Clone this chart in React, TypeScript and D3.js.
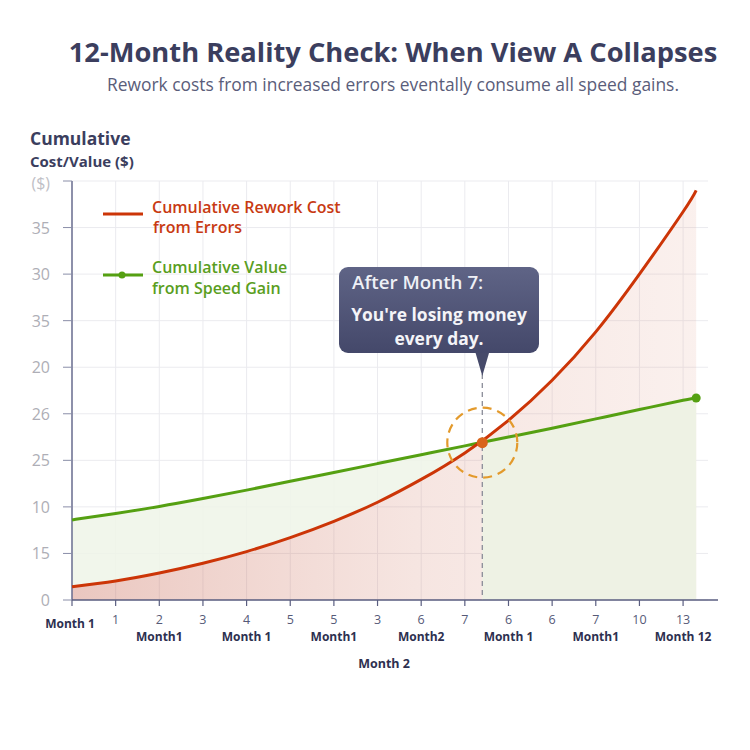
import React from 'react';
import * as d3 from 'd3';

const months = [0, 1, 2, 3, 4, 5, 6, 7, 8, 9, 10, 11, 12, 13, 14, 14.3];
const reworkCost = [1.43, 2.05, 2.9, 3.95, 5.2, 6.7, 8.45, 10.5, 12.95, 15.8, 19.3, 23.6, 28.8, 35.0, 41.7, 44.0];
const speedValue = [8.6, 9.3, 10.05, 10.9, 11.8, 12.75, 13.7, 14.65, 15.6, 16.55, 17.5, 18.45, 19.45, 20.45, 21.45, 21.7];

const yTickValues = [0, 5, 10, 15, 20, 25, 30, 35, 40, 45];
const yTickLabels = ['0', '15', '10', '25', '26', '20', '35', '30', '35', '($)'];

const xTickValues = [0, 1, 2, 3, 4, 5, 6, 7, 8, 9, 10, 11, 12, 13, 14];
const xTickLabels = ['Month 1', '1', '2', '3', '4', '5', '5', '3', '6', '7', '6', '6', '7', '10', '13'];
const xMonthLabels = ['', '', 'Month1', '', 'Month 1', '', 'Month1', '', 'Month2', '', 'Month 1', '', 'Month1', '', 'Month 12'];
const xAxisTitle = 'Month 2';
const xAxisTitlePos = 7.15;

const crossMonth = 9.4;
const crossValue = 16.9;

const title = '12-Month Reality Check: When View A Collapses';
const subtitle = 'Rework costs from increased errors eventally consume all speed gains.';
const legendRework = ['Cumulative Rework Cost', 'from Errors'];
const legendValue = ['Cumulative Value', 'from Speed Gain'];
const calloutTitle = 'After Month 7:';
const calloutBody = ["You're losing money", 'every day.'];

const FONT = "'Open Sans', 'Noto Sans', sans-serif";

export default function App() {
  const x = d3.scaleLinear().domain([0, 14.8]).range([72, 718]);
  const y = d3.scaleLinear().domain([0, 45]).range([600, 181]);
  const rows = months.map((m, i) => ({ m, r: reworkCost[i], g: speedValue[i] }));
  const curve = d3.curveNatural;

  const redLine = d3.line<any>().x(d => x(d.m)).y(d => y(d.r)).curve(curve);
  const greenLine = d3.line<any>().x(d => x(d.m)).y(d => y(d.g)).curve(curve);
  const redArea = d3.area<any>().x(d => x(d.m)).y0(y(0)).y1(d => y(d.r)).curve(curve);
  const bandArea = d3.area<any>().x(d => x(d.m)).y0(d => y(d.r)).y1(d => y(d.g)).curve(curve);
  const greenArea = d3.area<any>().x(d => x(d.m)).y0(y(0)).y1(d => y(d.g)).curve(curve);

  const cx = x(crossMonth);
  const cy = y(crossValue);
  const last = rows[rows.length - 1];

  const calX = 339, calY = 267, calW = 200, calH = 86;

  return (
    <svg width={750} height={750} style={{ position: 'absolute', left: 0, top: 0, background: '#fff' }} fontFamily={FONT}>
      <defs>
        <linearGradient id="redGrad" x1="0" x2="1" y1="0" y2="0">
          <stop offset="0" stopColor="rgb(198,98,78)" stopOpacity={0.36} />
          <stop offset="0.55" stopColor="rgb(210,125,105)" stopOpacity={0.2} />
          <stop offset="1" stopColor="rgb(222,150,130)" stopOpacity={0.14} />
        </linearGradient>
        <linearGradient id="calGrad" x1="0" x2="0" y1="0" y2="1">
          <stop offset="0" stopColor="#5f6486" />
          <stop offset="1" stopColor="#44486a" />
        </linearGradient>
        <clipPath id="leftClip"><rect x={0} y={0} width={cx} height={750} /></clipPath>
        <clipPath id="rightClip"><rect x={cx} y={0} width={750 - cx} height={750} /></clipPath>
      </defs>

      {/* titles */}
      <text x={393} y={62} textAnchor="middle" fontSize={27.3} fontWeight={700} fill="#3b3e5e">{title}</text>
      <text x={393} y={91} textAnchor="middle" fontSize={17.4} fill="#5a5d7a">{subtitle}</text>
      <text x={30} y={145} fontSize={17.5} fontWeight={700} fill="#3b3e5e">Cumulative</text>
      <text x={30} y={167} fontSize={15} fontWeight={700} fill="#3b3e5e">Cost/Value ($)</text>

      {/* grid */}
      {yTickValues.map(v => (
        <line key={'gy' + v} x1={x(0)} x2={708} y1={y(v)} y2={y(v)} stroke="#ebebef" strokeWidth={1} />
      ))}
      {xTickValues.map(v => (
        <line key={'gx' + v} x1={x(v)} x2={x(v)} y1={y(45)} y2={y(0)} stroke="#ebebef" strokeWidth={1} />
      ))}

      {/* areas */}
      <path d={redArea(rows) || ''} fill="url(#redGrad)" />
      <path d={bandArea(rows) || ''} fill="#eff4e8" opacity={0.85} clipPath="url(#leftClip)" />
      <path d={greenArea(rows) || ''} fill="#eef2e4" clipPath="url(#rightClip)" />

      {/* axes */}
      <line x1={x(0)} x2={x(0)} y1={y(45)} y2={y(0)} stroke="#6a6e90" strokeWidth={1.5} />
      <line x1={x(0)} x2={718} y1={y(0)} y2={y(0)} stroke="#5a5e80" strokeWidth={1.5} />
      {yTickValues.map((v, i) => (
        <g key={'yt' + v}>
          <line x1={63} x2={x(0)} y1={y(v)} y2={y(v)} stroke="#8a8ea8" strokeWidth={1} />
          <text x={50} y={y(v) + (i === yTickLabels.length - 1 ? 8 : 6)} textAnchor="end" fontSize={16} fill={i === yTickLabels.length - 1 ? '#c0c0c6' : '#aeaeb6'}>{yTickLabels[i]}</text>
        </g>
      ))}
      {xTickValues.map((v, i) => (
        <g key={'xt' + v}>
          <line x1={x(v)} x2={x(v)} y1={y(0)} y2={y(0) + 6} stroke="#5a5e80" strokeWidth={1.2} />
          {i === 0 ? (
            <text x={x(v) - 2} y={628} textAnchor="middle" fontSize={12} fontWeight={700} fill="#2d3050">{xTickLabels[i]}</text>
          ) : (
            <text x={x(v)} y={624} textAnchor="middle" fontSize={12.5} fill="#565a78">{xTickLabels[i]}</text>
          )}
          {xMonthLabels[i] && (
            <text x={x(v)} y={641} textAnchor="middle" fontSize={12} fontWeight={700} fill="#2d3050">{xMonthLabels[i]}</text>
          )}
        </g>
      ))}
      <text x={x(xAxisTitlePos)} y={668} textAnchor="middle" fontSize={12.5} fontWeight={700} fill="#2d3050">{xAxisTitle}</text>

      {/* dashed vertical */}
      <line x1={cx} x2={cx} y1={374} y2={y(0)} stroke="#8a8c98" strokeWidth={1.3} strokeDasharray="5 4" />

      {/* lines */}
      <path d={greenLine(rows) || ''} fill="none" stroke="#55a012" strokeWidth={3} />
      <path d={redLine(rows) || ''} fill="none" stroke="#cc3507" strokeWidth={3} />
      <circle cx={x(last.m)} cy={y(last.g)} r={4.5} fill="#55a012" />

      {/* crossover marker */}
      <circle cx={cx} cy={cy} r={35} fill="none" stroke="#e39a2c" strokeWidth={2.2} strokeDasharray="9 6" />
      <circle cx={cx} cy={cy} r={5.5} fill="#d9641a" />

      {/* callout */}
      <path d={`M${cx - 7},${calY + calH - 1} L${cx},${376} L${cx + 7},${calY + calH - 1} Z`} fill="#464a6a" />
      <rect x={calX} y={calY} width={calW} height={calH} rx={9} fill="url(#calGrad)" />
      <text x={352} y={289} fontSize={18.8} fontWeight={600} fill="#eef0f6">{calloutTitle}</text>
      <text x={calX + calW / 2} y={321} textAnchor="middle" fontSize={17.4} fontWeight={700} fill="#f4f4f8">{calloutBody[0]}</text>
      <text x={calX + calW / 2} y={345} textAnchor="middle" fontSize={17.4} fontWeight={700} fill="#f4f4f8">{calloutBody[1]}</text>

      {/* legend */}
      <line x1={103} x2={143} y1={214} y2={214} stroke="#cc3507" strokeWidth={3} />
      <text x={152} y={213} fontSize={16} fontWeight={600} fill="#c83a12">{legendRework[0]}</text>
      <text x={153} y={233} fontSize={16} fontWeight={600} fill="#c83a12">{legendRework[1]}</text>
      <line x1={103} x2={143} y1={275} y2={275} stroke="#55a012" strokeWidth={3} />
      <circle cx={122} cy={275} r={3.5} fill="#55a012" />
      <text x={152} y={273} fontSize={16} fontWeight={600} fill="#5a9e1e">{legendValue[0]}</text>
      <text x={152} y={294} fontSize={16} fontWeight={600} fill="#5a9e1e">{legendValue[1]}</text>
    </svg>
  );
}
